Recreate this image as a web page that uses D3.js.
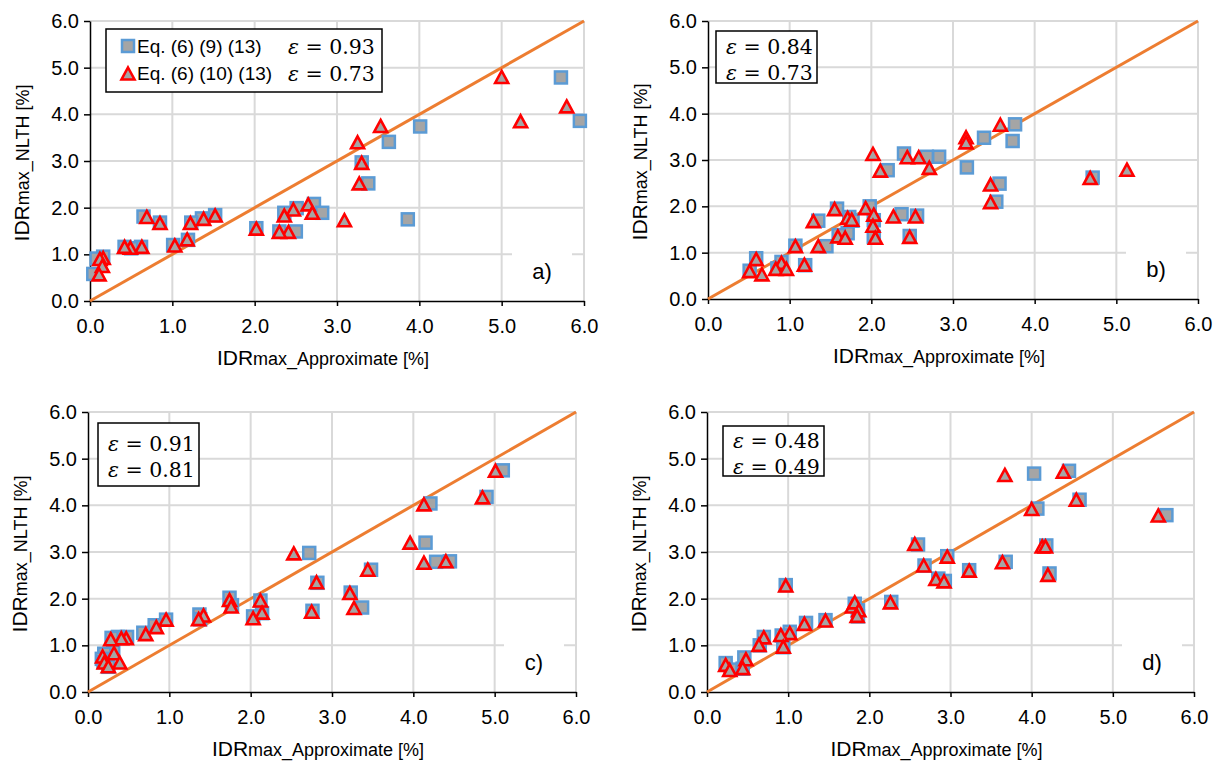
<!DOCTYPE html>
<html>
<head>
    <script src="https://d3js.org/d3.v7.min.js"></script>
    <style>
        body { margin: 0; background: #fff; }
        text { font-family: "Liberation Sans", Arial, sans-serif; fill: #000; }
        .eps { font-family: "DejaVu Serif", "Liberation Serif", serif; }
    </style>
</head>
<body>
    <svg width="1221" height="763"></svg>
    <script>
        // tick values shared by both axes of every panel
        var ticks = [0, 1, 2, 3, 4, 5, 6];
        var panelLabels = ["a)", "b)", "c)", "d)"];
        var epsSquare = [0.93, 0.84, 0.91, 0.48];
        var epsTriangle = [0.73, 0.73, 0.81, 0.49];
        var legendNames = ["Eq. (6) (9) (13)", "Eq. (6) (10) (13)"];

        // [IDR approximate, IDR NLTH]
        var squaresA = [[5.72, 4.79], [5.95, 3.86], [4.01, 3.74], [3.63, 3.41], [3.30, 2.97], [3.38, 2.52],
            [3.86, 1.75], [2.72, 2.08], [2.82, 1.89], [2.51, 1.99], [2.36, 1.89], [2.50, 1.49], [2.30, 1.49],
            [2.02, 1.56], [1.52, 1.84], [1.36, 1.77], [1.23, 1.68], [0.85, 1.68], [0.65, 1.81], [1.19, 1.31],
            [1.01, 1.20], [0.62, 1.16], [0.50, 1.13], [0.42, 1.16], [0.16, 0.95], [0.08, 0.91], [0.04, 0.58]];
        var trianglesA = [[5.00, 4.79], [5.79, 4.16], [5.23, 3.84], [3.53, 3.74], [3.25, 3.39], [3.30, 2.95],
            [3.27, 2.51], [3.09, 1.72], [2.65, 2.06], [2.70, 1.88], [2.47, 1.95], [2.36, 1.82], [2.41, 1.47],
            [2.30, 1.47], [2.02, 1.54], [1.52, 1.82], [1.38, 1.75], [1.22, 1.66], [0.85, 1.66], [0.69, 1.79],
            [1.18, 1.31], [1.03, 1.18], [0.63, 1.15], [0.49, 1.13], [0.42, 1.15], [0.16, 0.91], [0.12, 0.89],
            [0.15, 0.74], [0.11, 0.56]];

        var squaresB = [[3.76, 3.77], [3.73, 3.41], [3.38, 3.48], [3.17, 2.84], [2.83, 3.07], [2.68, 3.07],
            [2.40, 3.14], [2.20, 2.78], [3.57, 2.49], [3.53, 2.10], [4.71, 2.62], [1.98, 2.00], [1.58, 1.95],
            [1.73, 1.77], [1.77, 1.69], [2.37, 1.83], [2.56, 1.80], [2.03, 1.70], [2.03, 1.34], [2.47, 1.36],
            [1.71, 1.42], [1.60, 1.38], [1.35, 1.69], [1.45, 1.14], [1.07, 1.15], [0.59, 0.88], [0.90, 0.80],
            [0.85, 0.66], [0.51, 0.61], [1.19, 0.73]];
        var trianglesB = [[5.13, 2.78], [4.68, 2.60], [3.58, 3.75], [3.16, 3.48], [3.16, 3.37], [3.46, 2.46],
            [3.46, 2.08], [2.02, 3.12], [2.11, 2.76], [2.44, 3.05], [2.58, 3.05], [2.71, 2.82], [1.93, 1.95],
            [2.03, 1.81], [2.02, 1.57], [2.05, 1.31], [2.27, 1.77], [2.54, 1.77], [2.47, 1.33], [1.55, 1.93],
            [1.71, 1.74], [1.76, 1.70], [1.29, 1.67], [1.59, 1.34], [1.68, 1.31], [1.35, 1.13], [1.07, 1.13],
            [1.18, 0.73], [0.59, 0.85], [0.90, 0.77], [0.83, 0.64], [0.96, 0.64], [0.51, 0.59], [0.66, 0.52]];

        var squaresC = [[5.10, 4.75], [4.90, 4.18], [4.21, 4.04], [4.15, 3.20], [4.28, 2.79], [4.45, 2.80],
            [2.72, 2.98], [3.48, 2.62], [3.37, 1.81], [3.23, 2.13], [2.82, 2.34], [2.76, 1.74], [2.12, 1.96],
            [2.14, 1.69], [2.03, 1.62], [1.74, 2.02], [1.77, 1.86], [1.37, 1.66], [1.38, 1.56], [0.96, 1.55],
            [0.82, 1.43], [0.68, 1.27], [0.48, 1.18], [0.37, 1.18], [0.29, 1.16], [0.31, 0.86], [0.20, 0.82],
            [0.17, 0.71], [0.25, 0.54], [0.19, 0.64]];
        var trianglesC = [[5.01, 4.73], [4.85, 4.16], [4.13, 4.01], [3.96, 3.19], [4.13, 2.76], [4.40, 2.79],
            [2.53, 2.96], [3.44, 2.61], [3.22, 2.11], [3.27, 1.79], [2.81, 2.34], [2.75, 1.71], [2.12, 1.95],
            [2.14, 1.69], [2.03, 1.57], [1.74, 1.96], [1.76, 1.82], [1.42, 1.63], [1.36, 1.55], [0.96, 1.54],
            [0.84, 1.38], [0.71, 1.23], [0.47, 1.14], [0.41, 1.14], [0.28, 1.12], [0.32, 0.82], [0.39, 0.62],
            [0.18, 0.75], [0.20, 0.62], [0.25, 0.54]];

        var squaresD = [[5.66, 3.79], [4.03, 4.68], [4.46, 4.74], [4.59, 4.12], [4.07, 3.93], [4.18, 3.14],
            [4.22, 2.54], [3.68, 2.79], [3.23, 2.61], [2.96, 2.91], [2.60, 3.16], [2.68, 2.71], [2.85, 2.43],
            [2.93, 2.38], [2.27, 1.93], [1.82, 1.89], [1.86, 1.75], [1.86, 1.62], [0.97, 2.29], [1.46, 1.54],
            [1.22, 1.48], [1.02, 1.29], [0.92, 1.21], [0.70, 1.18], [0.65, 1.00], [0.94, 0.96], [0.46, 0.74],
            [0.44, 0.50], [0.23, 0.62], [0.29, 0.48]];
        var trianglesD = [[5.56, 3.77], [3.67, 4.64], [4.39, 4.71], [4.55, 4.11], [4.00, 3.91], [4.13, 3.11],
            [4.17, 3.11], [4.20, 2.50], [3.64, 2.77], [3.23, 2.59], [2.96, 2.89], [2.56, 3.16], [2.67, 2.70],
            [2.82, 2.41], [2.92, 2.36], [2.26, 1.91], [1.79, 1.82], [1.82, 1.91], [1.87, 1.74], [1.85, 1.62],
            [0.97, 2.27], [1.46, 1.52], [1.20, 1.45], [1.02, 1.25], [0.91, 1.21], [0.70, 1.16], [0.94, 0.96],
            [0.64, 1.00], [0.48, 0.69], [0.44, 0.50], [0.23, 0.57], [0.28, 0.46]];

        var panelSquares = [squaresA, squaresB, squaresC, squaresD];
        var panelTriangles = [trianglesA, trianglesB, trianglesC, trianglesD];

        // plot areas in page pixels
        var frames = [
            {left: 90, right: 584, top: 21, bottom: 301, box: [16, 8, 276, 63]},
            {left: 708, right: 1198, top: 21, bottom: 299, box: [8, 10, 101, 52]},
            {left: 88, right: 576, top: 412, bottom: 692, box: [10, 11, 101, 63]},
            {left: 707, right: 1194, top: 412, bottom: 692, box: [16, 14, 101, 50]}
        ];

        var svg = d3.select("svg");
        var fmt = d3.format(".1f");

        function triPath(cx, cy) {
            return "M" + cx + "," + (cy - 6.5) + "L" + (cx + 6.5) + "," + (cy + 5.5) +
                "L" + (cx - 6.5) + "," + (cy + 5.5) + "Z";
        }

        function drawSquare(g, cx, cy) {
            g.append("rect")
                .attr("x", cx - 6).attr("y", cy - 6)
                .attr("width", 12).attr("height", 12)
                .attr("fill", "#a5a5a5")
                .attr("stroke", "#5b9bd5")
                .attr("stroke-width", 2.5);
        }

        function drawTriangle(g, cx, cy) {
            g.append("path")
                .attr("d", triPath(cx, cy))
                .attr("fill", "#a5a5a5")
                .attr("stroke", "#ff0000")
                .attr("stroke-width", 2.6)
                .attr("stroke-linejoin", "miter");
        }

        frames.forEach(function(f, i) {
            var w = f.right - f.left, h = f.bottom - f.top;
            var x = d3.scaleLinear().domain([0, 6]).range([0, w]);
            var y = d3.scaleLinear().domain([0, 6]).range([h, 0]);

            var g = svg.append("g").attr("transform", "translate(" + f.left + "," + f.top + ")");

            // gridlines
            g.append("g").selectAll("line.gx").data(ticks.slice(1)).enter().append("line")
                .attr("x1", function(d) { return x(d); }).attr("x2", function(d) { return x(d); })
                .attr("y1", 0).attr("y2", h)
                .attr("stroke", "#d9d9d9").attr("stroke-width", 2);
            g.append("g").selectAll("line.gy").data(ticks.slice(1)).enter().append("line")
                .attr("x1", 0).attr("x2", w)
                .attr("y1", function(d) { return y(d); }).attr("y2", function(d) { return y(d); })
                .attr("stroke", "#d9d9d9").attr("stroke-width", 2);

            // white patch behind the panel letter
            g.append("rect")
                .attr("x", w - 72).attr("y", h - 50)
                .attr("width", 60).attr("height", 42)
                .attr("fill", "#fff");
            g.append("text")
                .attr("x", w - 42).attr("y", h - 22)
                .attr("text-anchor", "middle")
                .style("font-size", "22px")
                .text(panelLabels[i]);

            // axes
            var xAxis = g.append("g").attr("transform", "translate(0," + h + ")")
                .call(d3.axisBottom(x).tickValues(ticks).tickFormat(fmt).tickSize(5).tickSizeOuter(0).tickPadding(13));
            var yAxis = g.append("g")
                .call(d3.axisLeft(y).tickValues(ticks).tickFormat(fmt).tickSize(6).tickSizeOuter(0).tickPadding(5));
            [xAxis, yAxis].forEach(function(ax) {
                ax.select(".domain").attr("stroke", "#000").attr("stroke-width", 1.5);
                ax.selectAll(".tick line").attr("stroke", "#000").attr("stroke-width", 1.5);
                ax.selectAll("text").style("font-size", "20px")
                    .style("font-family", "'Liberation Sans', Arial, sans-serif");
            });

            // 1:1 line
            g.append("line")
                .attr("x1", x(0)).attr("y1", y(0)).attr("x2", x(6)).attr("y2", y(6))
                .attr("stroke", "#ed7d31").attr("stroke-width", 3);

            // markers
            var mk = g.append("g");
            panelSquares[i].forEach(function(d) { drawSquare(mk, x(d[0]), y(d[1])); });
            panelTriangles[i].forEach(function(d) { drawTriangle(mk, x(d[0]), y(d[1])); });

            // axis titles
            var xt = g.append("text")
                .attr("x", w / 2 - 14).attr("y", h + 64)
                .attr("text-anchor", "middle");
            xt.append("tspan").style("font-size", "21px").text("IDR");
            xt.append("tspan").style("font-size", "18px").text("max_Approximate [%]");

            var yt = g.append("text")
                .attr("transform", "translate(-61," + (h / 2 + 2) + ") rotate(-90)")
                .attr("text-anchor", "middle");
            yt.append("tspan").style("font-size", "21px").text("IDR");
            yt.append("tspan").style("font-size", "18px").text("max_NLTH [%]");

            // legend / epsilon box
            var b = f.box;
            var box = g.append("g").attr("transform", "translate(" + b[0] + "," + b[1] + ")");
            box.append("rect")
                .attr("width", b[2]).attr("height", b[3])
                .attr("fill", "#fff").attr("stroke", "#000").attr("stroke-width", 1.5);

            var epsX = 10, rowY = [b[3] / 2 - 11, b[3] / 2 + 15];
            if (i === 0) {
                epsX = 182;
                rowY = [17, 44];
                drawSquare(box, 22, rowY[0]);
                drawTriangle(box, 22, rowY[1] + 1);
                legendNames.forEach(function(n, k) {
                    box.append("text")
                        .attr("x", 31).attr("y", rowY[k] + 7)
                        .style("font-size", "19px")
                        .text(n);
                });
            }
            [epsSquare[i], epsTriangle[i]].forEach(function(v, k) {
                var t = box.append("text")
                    .attr("class", "eps")
                    .attr("x", epsX).attr("y", rowY[k] + 7.5)
                    .style("font-size", "20.5px");
                t.append("tspan").style("font-style", "italic").text("\u03b5");
                t.append("tspan").text(" = " + v.toFixed(2));
            });
        });
    </script>
</body>
</html>
